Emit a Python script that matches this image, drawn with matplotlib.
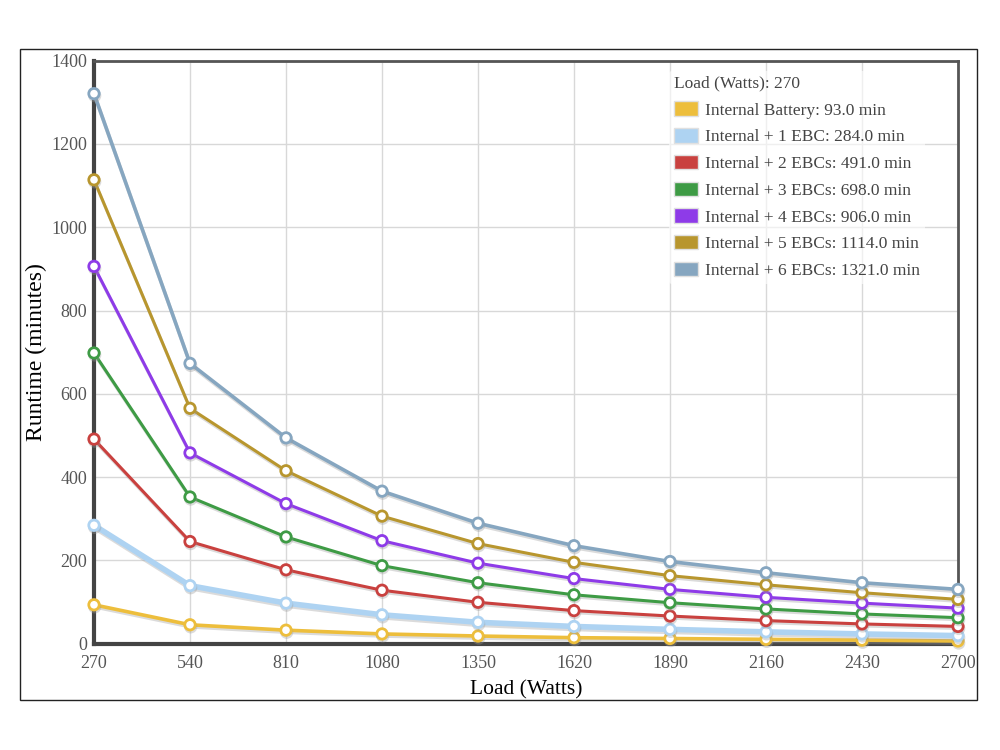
import numpy as np
import matplotlib
matplotlib.use("Agg")
import matplotlib.pyplot as plt
import matplotlib.patheffects as pe
from matplotlib.patches import Patch, Rectangle

plt.rcParams['font.family'] = ['Liberation Serif', 'DejaVu Serif']

# data
loads = [270, 540, 810, 1080, 1350, 1620, 1890, 2160, 2430, 2700]
internal = [93, 45, 32, 23, 18, 14, 12, 10, 8, 6]
ebc1 = [284, 139, 97, 69, 51, 41, 34, 28, 23, 19]
ebc2 = [491, 245, 177, 128, 99, 79, 66, 55, 47, 41]
ebc3 = [698, 352, 256, 187, 146, 117, 98, 83, 71, 62]
ebc4 = [906, 458, 336, 247, 193, 156, 130, 111, 97, 85]
ebc5 = [1114, 565, 415, 306, 240, 195, 163, 141, 122, 106]
ebc6 = [1321, 673, 494, 366, 289, 235, 197, 170, 146, 130]

names = ["Internal Battery", "Internal + 1 EBC", "Internal + 2 EBCs",
         "Internal + 3 EBCs", "Internal + 4 EBCs", "Internal + 5 EBCs",
         "Internal + 6 EBCs"]
series = [internal, ebc1, ebc2, ebc3, ebc4, ebc5, ebc6]
colors = ["#EDBE3C", "#AED3F2", "#C9413F", "#3E9B45", "#8E3BE8",
          "#B8962E", "#86A6C0"]
widths = [2.6, 4.0, 2.2, 2.2, 2.2, 2.2, 2.6]

fig = plt.figure(figsize=(10, 7.5), dpi=100)
fig.patches.append(Rectangle((0.02, 0.0667), 0.957, 0.868, transform=fig.transFigure,
                             fill=False, edgecolor="#222222", linewidth=1.0))
ax = fig.add_axes([0.094, 0.142, 0.864, 0.777])

shadow = [pe.SimpleLineShadow(offset=(0.5, -1.5), shadow_color="#999999", alpha=0.35),
          pe.Normal()]

for vals, col, lw in zip(series, colors, widths):
    ax.plot(loads, vals, color=col, linewidth=lw, marker="o", markersize=7.5,
            markerfacecolor="white", markeredgecolor=col, markeredgewidth=2,
            clip_on=False, zorder=3, path_effects=shadow)

ax.set_xlim(270, 2700)
ax.set_ylim(0, 1400)
ax.set_xticks(loads)
ax.set_yticks(np.arange(0, 1401, 200))
ax.grid(True, color="#d8d8d8", linewidth=1.0)
ax.set_axisbelow(True)
ax.tick_params(length=0, labelsize=13, labelcolor="#555555")
ax.tick_params(axis="y", pad=5)
ax.tick_params(axis="x", pad=8)

for side in ["left", "bottom"]:
    ax.spines[side].set_linewidth(3)
    ax.spines[side].set_color("#444444")
for side in ["top", "right"]:
    ax.spines[side].set_linewidth(2)
    ax.spines[side].set_color("#555555")

ax.set_xlabel("Load (Watts)", fontsize=15.5, labelpad=6)
ax.set_ylabel("Runtime (minutes)", fontsize=17, labelpad=3)

handles = [Patch(facecolor=c, edgecolor="#e0e0e0", linewidth=1.0) for c in colors]
labels = [f"{n}: {v[0]:.1f} min" for n, v in zip(names, series)]
leg = ax.legend(handles, labels, title="Load (Watts): 270", loc="upper left",
                bbox_to_anchor=(0.655, 0.998), frameon=True, fontsize=12.5,
                title_fontsize=12.5, handlelength=1.4, handleheight=0.9,
                labelspacing=0.55, handletextpad=0.4, borderpad=0.3)
leg._legend_box.align = "left"
leg.get_frame().set_facecolor("white")
leg.get_frame().set_alpha(0.6)
leg.get_frame().set_edgecolor("none")
for t in leg.get_texts():
    t.set_color("#444444")
leg.get_title().set_color("#444444")

fig.savefig("out.png", dpi=100)
